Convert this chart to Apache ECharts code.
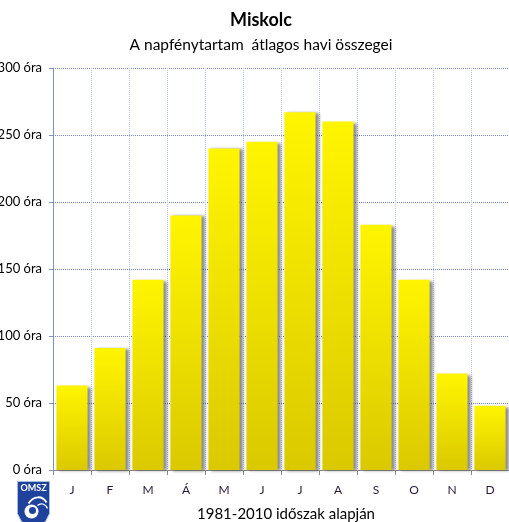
<!DOCTYPE html>
<html>
<head>
<meta charset="utf-8">
<script src="https://cdn.jsdelivr.net/npm/echarts@6/dist/echarts.min.js"></script>
<style>
  html, body { margin: 0; padding: 0; background: #fff; }
  #chart { width: 509px; height: 522px; }
</style>
</head>
<body>
<div id="chart"></div>
<script>
// Havi napfénytartam, Miskolc (1981-2010)
const months = ['J', 'F', 'M', 'Á', 'M', 'J', 'J', 'A', 'S', 'O', 'N', 'D'];
const sunshineHours = [63, 91, 142, 190, 240, 245, 267, 260, 183, 142, 72, 48];
const yTicks = [0, 50, 100, 150, 200, 250, 300];

const FONT = 'Lato, "Open Sans", sans-serif';

const chart = echarts.init(document.getElementById('chart'), null, { renderer: 'canvas' });

const barGradient = {
  type: 'linear', x: 0, y: 0, x2: 0, y2: 1,
  colorStops: [
    { offset: 0, color: '#fff500' },
    { offset: 0.5, color: '#ede000' },
    { offset: 1, color: '#dac900' }
  ]
};

chart.setOption({
  animation: false,
  backgroundColor: '#ffffff',
  title: [
    {
      text: 'Miskolc',
      left: 256, top: 6, textAlign: 'center',
      textStyle: { fontFamily: FONT, fontSize: 18, fontWeight: 'bold', color: '#000' }
    },
    {
      text: 'A napfénytartam  átlagos havi összegei',
      left: 256, top: 32, textAlign: 'center',
      textStyle: { fontFamily: FONT, fontSize: 15.5, fontWeight: 'normal', color: '#000' }
    },
    {
      text: '1981-2010 időszak alapján',
      left: 281, top: 502, textAlign: 'center',
      textStyle: { fontFamily: FONT, fontSize: 15, fontWeight: 'normal', color: '#000' }
    }
  ],
  grid: {
    left: 53, right: 0, top: 68, bottom: 52,
    containLabel: false,
    outerBoundsMode: 'none'
  },
  xAxis: {
    type: 'category',
    data: months,
    boundaryGap: true,
    axisLine: { show: true, lineStyle: { color: '#8c8c8c', width: 1 } },
    axisTick: { show: true, length: 5, alignWithLabel: false, lineStyle: { color: '#8c8c8c' } },
    axisLabel: { margin: 14, fontFamily: FONT, fontSize: 12, color: '#2a1a3a' },
    splitLine: { show: true, interval: 0, lineStyle: { color: '#b4c6ea', type: 'dotted', width: 1 } }
  },
  yAxis: {
    type: 'value',
    min: yTicks[0],
    max: yTicks[yTicks.length - 1],
    interval: yTicks[1] - yTicks[0],
    axisLine: { show: true, lineStyle: { color: '#7f92c0', width: 1 } },
    axisTick: { show: true, length: 4, lineStyle: { color: '#7f92c0' } },
    axisLabel: {
      margin: 11, fontFamily: FONT, fontSize: 13, color: '#000',
      formatter: v => v + ' óra'
    },
    splitLine: { show: true, lineStyle: { color: '#7088c4', type: 'dotted', width: 1 } }
  },
  series: [{
    type: 'bar',
    data: sunshineHours,
    barCategoryGap: '18%',
    itemStyle: {
      color: barGradient,
      shadowColor: 'rgba(60,60,60,0.6)',
      shadowBlur: 3,
      shadowOffsetX: 3,
      shadowOffsetY: 1
    }
  }],
  graphic: [
    {
      type: 'group',
      left: 17, top: 481,
      children: [
        {
          type: 'polygon',
          shape: { points: [[0, 0], [32, 0], [32, 32], [28, 40], [16, 46], [4, 40], [0, 32]] },
          style: { fill: '#1f429c', stroke: '#a9bbdd', lineWidth: 1 }
        },
        {
          type: 'text',
          x: 16, y: 2,
          style: { text: 'OMSZ', fill: '#ffffff', font: 'bold 9px ' + FONT, textAlign: 'center' }
        },
        {
          type: 'circle',
          shape: { cx: 14, cy: 30, r: 7 },
          style: { fill: '#ffffff' }
        },
        {
          type: 'circle',
          shape: { cx: 15, cy: 29, r: 3.5 },
          style: { fill: '#1f429c' }
        },
        {
          type: 'bezierCurve',
          shape: { x1: 11, y1: 22, x2: 29, y2: 21, cpx1: 16, cpy1: 14, cpx2: 25, cpy2: 14 },
          style: { fill: null, stroke: '#ffffff', lineWidth: 2 }
        },
        {
          type: 'bezierCurve',
          shape: { x1: 20, y1: 24, x2: 30, y2: 27, cpx1: 23, cpy1: 21, cpx2: 28, cpy2: 22 },
          style: { fill: null, stroke: '#ffffff', lineWidth: 1.2 }
        }
      ]
    }
  ]
});
</script>
</body>
</html>
